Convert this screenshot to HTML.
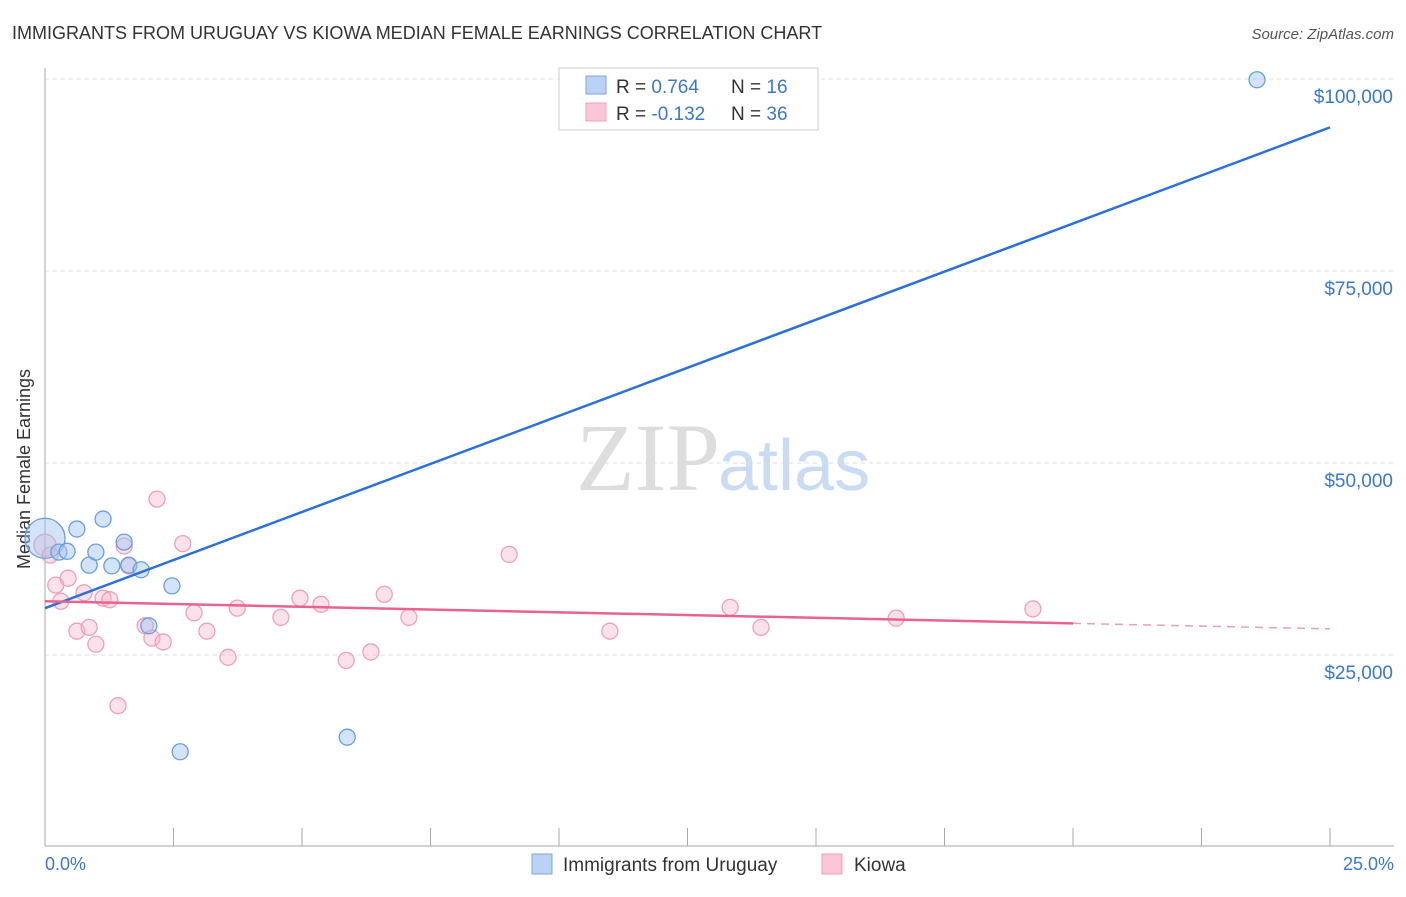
<!DOCTYPE html>
<html><head><meta charset="utf-8"><style>
body{margin:0;background:#fff;font-family:"Liberation Sans",sans-serif}
</style></head><body>
<svg width="1406" height="892" xmlns="http://www.w3.org/2000/svg" font-family="Liberation Sans, sans-serif">
<text x="12" y="39" font-size="18" fill="#333">IMMIGRANTS FROM URUGUAY VS KIOWA MEDIAN FEMALE EARNINGS CORRELATION CHART</text>
<text x="1394" y="39" font-size="15" fill="#555" font-style="italic" text-anchor="end">Source: ZipAtlas.com</text>
<text x="720" y="490" font-size="96" fill="#ddd" font-family="Liberation Serif, serif" text-anchor="end">ZIP</text>
<text x="718" y="490" font-size="72" fill="#c9dcf3">atlas</text>
<g id="grid"></g>
<line x1="45" y1="68" x2="45" y2="846" stroke="#aaa"/>
<line x1="45" y1="846" x2="1394" y2="846" stroke="#aaa"/>
<g id="ticks"></g>
<text x="18" y="457" font-size="18" fill="#333" transform="rotate(-90 30 457)" text-anchor="middle">Median Female Earnings</text>
<text x="45" y="870" font-size="18" fill="#3a78d0">0.0%</text>
<text x="1394" y="870" font-size="18" fill="#3a78d0" text-anchor="end">25.0%</text>
<g id="pts"></g>
<g id="lines"></g>
<g>
<rect x="559" y="68" width="259" height="62" fill="#fff" stroke="#ccc"/>
<rect x="586" y="76" width="20" height="18" fill="#b9d2f5" stroke="#7aa6e3"/>
<rect x="586" y="103" width="20" height="18" fill="#f9c7d5" stroke="#eea0b8"/>
<text x="616" y="93" font-size="19" fill="#333">R = <tspan fill="#3a78d0">0.764</tspan><tspan x="731">N = </tspan><tspan fill="#3a78d0">16</tspan></text>
<text x="616" y="120" font-size="19" fill="#333">R = <tspan fill="#3a78d0">-0.132</tspan><tspan x="731">N = </tspan><tspan fill="#3a78d0">36</tspan></text>
</g>
<g>
<rect x="532" y="854" width="20" height="20" fill="#b9d2f5" stroke="#7aa6e3"/>
<text x="563" y="871" font-size="19" fill="#333">Immigrants from Uruguay</text>
<rect x="822" y="854" width="20" height="20" fill="#f9c7d5" stroke="#eea0b8"/>
<text x="854" y="871" font-size="19" fill="#333">Kiowa</text>
</g>
</svg>
<script>
const yTicks=[25000,50000,75000,100000];
const yTickLabels=["$25,000","$50,000","$75,000","$100,000"];
const xTicks=[0,2.5,5,7.5,10,12.5,15,17.5,20,22.5,25];
const blueX=[0.0,0.27,0.43,0.62,0.86,0.99,1.13,1.30,1.54,1.63,1.87,2.47,2.02,2.63,5.88,23.58];
const blueY=[40200,38400,38500,41400,36700,38400,42700,36600,39700,36700,36100,34000,28800,12400,14300,99900];
const blueR=[20,8,8,8,8,8,8,8,8,8,8,8,8,8,8,8];
const pinkX=[0,0.21,0.45,0.31,0.62,0.86,0.99,0.76,1.13,1.26,1.42,1.54,1.63,1.95,2.08,2.18,2.30,2.68,2.90,3.15,3.56,3.74,4.59,4.96,5.37,5.86,6.34,6.60,7.08,9.03,10.99,13.33,13.93,16.56,19.22,0.1];
const pinkY=[39300,34100,35000,32000,28100,28600,26400,33100,32400,32200,18400,39200,36600,28800,27200,45300,26700,39500,30500,28100,24700,31100,29900,32400,31600,24300,25400,32900,29900,38100,28100,31200,28600,29800,31000,38000];
const blueLine=[31100,93700];
const pinkLine=[32000,28400];
const pinkSolidEnd=20;
const NS="http://www.w3.org/2000/svg";
const X=v=>45+v/25*1285;
const Y=v=>847-v*0.00768;
function mk(t,a,p){const e=document.createElementNS(NS,t);for(const k in a)e.setAttribute(k,a[k]);p.appendChild(e);return e;}
const grid=document.getElementById('grid'),ticks=document.getElementById('ticks'),pts=document.getElementById('pts'),lines=document.getElementById('lines');
yTicks.forEach((v,i)=>{
 const l=mk('line',{x1:45,x2:1394,y1:Y(v),y2:Y(v),stroke:'#ddd','stroke-dasharray':'4,4'},grid);
 
 
 const t=mk('text',{x:1393,y:Y(v)+24,'font-size':19,fill:'#3a78d0','text-anchor':'end'},ticks);
 t.textContent=yTickLabels[i];
 
 
});
xTicks.forEach(v=>{
 const l=mk('line',{x1:X(v),x2:X(v),y1:828,y2:846,stroke:'#aaa'},ticks);
 
 
});
pinkX.forEach((v,i)=>{
 const c=mk('circle',{cx:X(v),cy:Y(pinkY[i]),r:i==0?11:8,fill:'rgba(246,180,200,0.4)',stroke:'#eea0b8','stroke-width':1.3},pts);
 
 
});
blueX.forEach((v,i)=>{
 const c=mk('circle',{cx:X(v),cy:Y(blueY[i]),r:blueR[i],fill:'rgba(160,195,240,0.45)',stroke:'#6a9ee0','stroke-width':1.3},pts);
 
 
});
const bl=mk('line',{x1:X(0),y1:Y(blueLine[0]),x2:X(25),y2:Y(blueLine[1]),stroke:'#2a72d8','stroke-width':2.5},lines);


const pe=pinkLine[0]+(pinkLine[1]-pinkLine[0])*pinkSolidEnd/25;
const pl=mk('line',{x1:X(0),y1:Y(pinkLine[0]),x2:X(pinkSolidEnd),y2:Y(pe),stroke:'#e8638e','stroke-width':2.5},lines);


const pd=mk('line',{x1:X(pinkSolidEnd),y1:Y(pe),x2:X(25),y2:Y(pinkLine[1]),stroke:'#e8a0b8','stroke-width':1.5,'stroke-dasharray':'8,6'},lines);


</script>
</body></html>
